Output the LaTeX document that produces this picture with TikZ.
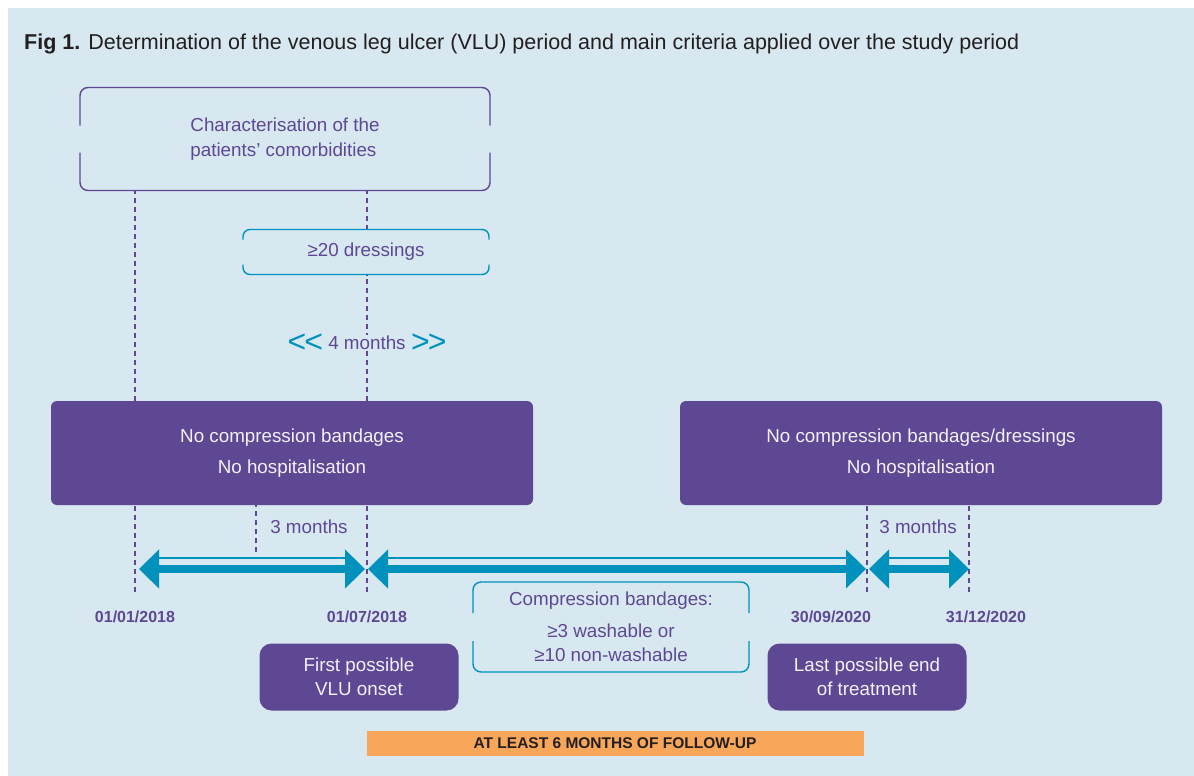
\documentclass[tikz,border=0pt]{standalone}
\usepackage{fontspec}
\setmainfont{Liberation Sans}
\usetikzlibrary{arrows.meta,positioning}

\definecolor{vbg}{RGB}{215,232,241}
\definecolor{vpurple}{RGB}{94,72,147}
\definecolor{vteal}{RGB}{0,146,188}
\definecolor{vorange}{RGB}{248,167,90}
\definecolor{vink}{RGB}{35,31,32}
\definecolor{vwhite}{RGB}{243,240,250}

\newcommand\fsz[2]{\fontsize{#1}{#2}\selectfont}

% open frame: node, colour, side length, corner radius
\newcommand\gapframe[4]{%
  \draw[#2, line width=1.4pt, rounded corners=#4]
    ([yshift=-#3]#1.north west) -- (#1.north west) -- (#1.north east) -- ([yshift=-#3]#1.north east);
  \draw[#2, line width=1.4pt, rounded corners=#4]
    ([yshift=#3]#1.south west) -- (#1.south west) -- (#1.south east) -- ([yshift=#3]#1.south east);
}

\tikzset{
  framed/.style   = {inner sep=0, outer sep=0, text=vpurple, align=center, font=\fsz{18.8}{25}},
  darkbox/.style  = {fill=vpurple, rounded corners=6pt, text=vwhite, align=center,
                     minimum width=482pt, minimum height=104pt, inner sep=0, outer sep=0,
                     font=\fsz{18.8}{31}},
  smallbox/.style = {fill=vpurple, rounded corners=12pt, text=vwhite, align=center,
                     minimum width=199pt, minimum height=67pt, inner sep=0, outer sep=0,
                     font=\fsz{18.8}{24}},
  labeltxt/.style = {text=vpurple, font=\fsz{18.8}{22}, inner sep=1pt},
  datetxt/.style  = {text=vpurple, font=\bfseries\fsz{16}{19}},
  chev/.style     = {text=vteal, font=\fsz{32}{32}, inner sep=0},
  tline/.style    = {vpurple, line width=1.2pt, dash pattern=on 5pt off 4pt},
  span/.style     = {vteal, line width=8pt,
                     {Triangle[length=20pt, width=38pt]}-{Triangle[length=20pt, width=38pt]}},
}

\begin{document}
\begin{tikzpicture}[x=1pt, y=-1pt]
  \fill[white] (0,0) rectangle (1194,776);
  \fill[vbg] (8,8) rectangle (1194,776);
  \useasboundingbox (0,0) rectangle (1194,776);

  \node[anchor=base west, text=vink, font=\fsz{21.5}{24}, inner sep=0] (title) at (24,49)
    {\textbf{Fig 1.} Determination of the venous leg ulcer (VLU) period and main criteria applied over the study period};

  \node[framed, minimum width=410pt, minimum height=103pt] (comorb) at (285,139)
    {\begin{tabular}{@{}l@{}}Characterisation of the\\patients’ comorbidities\end{tabular}};
  \node[framed, minimum width=246pt, minimum height=45pt] (dress) at (366,252) {≥20 dressings};

  \node[darkbox] (leftbox)  at (292,453) {No compression bandages\\No hospitalisation};
  \node[darkbox] (rightbox) at (921,453) {No compression bandages/dressings\\No hospitalisation};

  \coordinate (d1) at (135,592);
  \coordinate (d2) at (367,592);
  \coordinate (d3) at (867,592);
  \coordinate (d4) at (969,592);
  \coordinate (dm) at (256,552);

  \draw[tline] (leftbox.north -| d1) -- (d1 |- comorb.south);
  \draw[tline] (leftbox.north -| d2) -- (d2 |- dress.south);
  \draw[tline] (dress.north -| d2) -- (d2 |- comorb.south);
  \foreach \d in {d1,d2,dm} \draw[tline] (\d) -- (\d |- leftbox.south);
  \foreach \d in {d3,d4} \draw[tline] (\d) -- (\d |- rightbox.south);

  \node[labeltxt, fill=vbg] (four) at (367,343) {4 months};
  \node[chev, left=4pt of four] (lchev) {<\kern-2pt<};
  \node[chev, right=4pt of four] (rchev) {>\kern-2pt>};

  \node[labeltxt] (m1) at (309,527) {3 months};
  \node[labeltxt] (m2) at (918,527) {3 months};

  \coordinate (a1) at (139,569);
  \coordinate (a2) at (365,569);
  \coordinate (a3) at (368,569);
  \coordinate (a4) at (866,569);
  \coordinate (a5) at (869,569);
  \coordinate (a6) at (969,569);
  \foreach \s/\e in {a1/a2,a3/a4,a5/a6} {
    \draw[span] (\s) -- (\e);
    \draw[vteal, line width=1.5pt] ([xshift=20pt, yshift=11pt]\s) -- ([xshift=-20pt, yshift=11pt]\e);
  }

  \node[datetxt] (t1) at (135,617) {01/01/2018};
  \node[datetxt] (t2) at (367,617) {01/07/2018};
  \node[datetxt] (t3) at (831,617) {30/09/2020};
  \node[datetxt] (t4) at (986,617) {31/12/2020};

  \node[framed, minimum width=276pt, minimum height=90pt, font=\fsz{18.8}{24}] (compr) at (611,627)
    {Compression bandages:\\[8pt]≥3 washable or\\≥10 non-washable};

  \node[smallbox] (onset) at (359,677) {First possible\\VLU onset};
  \node[smallbox] (endtx) at (867,677) {Last possible end\\of treatment};

  \node[fill=vorange, text=vink, font=\bfseries\fsz{15.5}{18}, minimum width=497pt, minimum height=25pt,
        inner sep=0] (follow) at (615,743) {AT LEAST 6 MONTHS OF FOLLOW-UP};

  \gapframe{comorb}{vpurple}{38pt}{8pt}
  \gapframe{dress}{vteal}{10pt}{7pt}
  \gapframe{compr}{vteal}{31pt}{8pt}
\end{tikzpicture}
\end{document}
